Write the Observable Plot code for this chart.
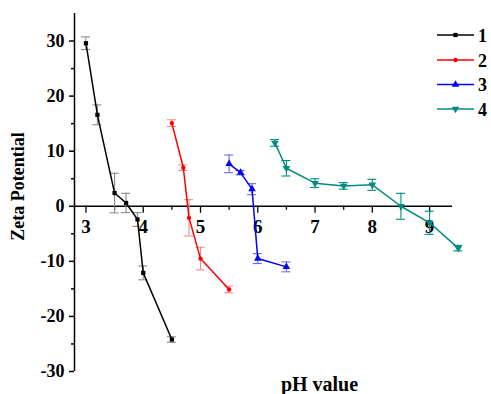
<!DOCTYPE html>
<html>
<head>
<meta charset="utf-8">
<script src="https://cdn.jsdelivr.net/npm/d3@7"></script>
<script src="https://cdn.jsdelivr.net/npm/@observablehq/plot@0.6"></script>
<style>
  html, body { margin: 0; padding: 0; background: #fff; }
  #wrap { position: relative; width: 491px; height: 394px; overflow: hidden; }
  #wrap svg text { font-weight: bold; }
  #legend { position: absolute; left: 0; top: 0; pointer-events: none; }
</style>
</head>
<body>
<div id="wrap"></div>
<script>
// ---- data ----
const seriesNames = ["1", "2", "3", "4"];
const seriesColors = ["#000000", "#ff0000", "#0000ff", "#008b80"];
const errorColors = ["#8a8a8a", "#f08a8a", "#6a6ae8", "#008b80"];

const ph1 = [3.0, 3.2, 3.5, 3.7, 3.9, 4.0, 4.5];
const zeta1 = [29.6, 16.6, 2.4, 0.6, -2.4, -12.1, -24.2];
const err1 = [1.15, 1.8, 3.6, 1.75, 1.25, 1.25, 0.5];

const ph2 = [4.5, 4.7, 4.8, 5.0, 5.5];
const zeta2 = [15.1, 7.0, -2.1, -9.5, -15.1];
const err2 = [0.6, 0.5, 3.3, 2.05, 0.6];

const ph3 = [5.5, 5.7, 5.9, 6.0, 6.5];
const zeta3 = [7.7, 6.1, 3.1, -9.5, -11.0];
const err3 = [1.6, 0.4, 1.0, 0.9, 0.9];

const ph4 = [6.3, 6.5, 7.0, 7.5, 8.0, 8.5, 9.0, 9.5];
const zeta4 = [11.5, 6.9, 4.2, 3.7, 3.9, 0.0, -3.0, -7.6];
const err4 = [0.6, 1.4, 0.8, 0.6, 1.0, 2.35, 2.1, 0.5];

const xTicks = [3, 4, 5, 6, 7, 8, 9];
const xMinorTicks = [3.5, 4.5, 5.5, 6.5, 7.5, 8.5];
const yTicks = [-30, -20, -10, 0, 10, 20, 30];
const yMinorTicks = [-25, -15, -5, 5, 15, 25];
const xDomain = [2.8, 9.4];
const yDomain = [-30, 35];

// ---- tidy table ----
const phs = [ph1, ph2, ph3, ph4];
const zetas = [zeta1, zeta2, zeta3, zeta4];
const errs = [err1, err2, err3, err4];
const rows = [];
seriesNames.forEach((s, k) => {
  phs[k].forEach((p, i) => rows.push({series: s, k, ph: p, zeta: zetas[k][i], err: errs[k][i]}));
});

const triangleDown = {
  draw(context, size) {
    const sqrt3 = Math.sqrt(3);
    const y = Math.sqrt(size / (sqrt3 * 3));
    context.moveTo(0, y * 2);
    context.lineTo(-sqrt3 * y, -y);
    context.lineTo(sqrt3 * y, -y);
    context.closePath();
  }
};
const symbols = ["square", "circle", "triangle", triangleDown];
const symbolR = [2.4, 2.2, 2.8, 2.8];

const marks = [];
// axes lines
marks.push(Plot.ruleY([0], {stroke: "#000", strokeWidth: 1.3}));
marks.push(Plot.ruleX([xDomain[0]], {stroke: "#000", strokeWidth: 1.5}));
// x ticks (hanging below y=0 line)
marks.push(Plot.ruleX(xTicks, {x: d => d, y1: 0, y2: 0, insetBottom: -7, stroke: "#000", strokeWidth: 1.3}));
marks.push(Plot.ruleX(xMinorTicks, {x: d => d, y1: 0, y2: 0, insetBottom: -4, stroke: "#000", strokeWidth: 1.3}));
marks.push(Plot.text(xTicks, {x: d => d, y: 0, dy: 21, text: d => String(d), fontSize: 19, fontWeight: "bold", fill: "#000"}));
// y axis ticks
marks.push(Plot.ruleY(yTicks, {y: d => d, x1: xDomain[0], x2: xDomain[0], insetLeft: -5, stroke: "#000", strokeWidth: 1.5}));
marks.push(Plot.ruleY(yMinorTicks, {y: d => d, x1: xDomain[0], x2: xDomain[0], insetLeft: -3, stroke: "#000", strokeWidth: 1.5}));
marks.push(Plot.text(yTicks, {y: d => d, frameAnchor: "left", textAnchor: "end", dx: -10, text: d => String(d), fontSize: 18, fontWeight: "bold", fill: "#000"}));
// axis titles
marks.push(Plot.text(["Zeta Potential"], {frameAnchor: "left", textAnchor: "middle", dx: -56, dy: -6, rotate: -90, fontSize: 18, fontWeight: "bold", fill: "#000"}));
marks.push(Plot.text(["pH value"], {frameAnchor: "bottom", textAnchor: "middle", dx: 56, dy: 19, lineAnchor: "bottom", fontSize: 20, fontWeight: "bold", fill: "#000"}));

seriesNames.forEach((s, k) => {
  const data = rows.filter(r => r.k === k);
  // error bars
  marks.push(Plot.ruleX(data, {x: "ph", y1: d => d.zeta - d.err, y2: d => d.zeta + d.err, stroke: errorColors[k], strokeWidth: 1.1}));
  marks.push(Plot.ruleY(data, {y: d => d.zeta + d.err, x1: "ph", x2: "ph", insetLeft: -4.5, insetRight: -4.5, stroke: errorColors[k], strokeWidth: 1.1}));
  marks.push(Plot.ruleY(data, {y: d => d.zeta - d.err, x1: "ph", x2: "ph", insetLeft: -4.5, insetRight: -4.5, stroke: errorColors[k], strokeWidth: 1.1}));
  // line
  marks.push(Plot.line(data, {x: "ph", y: "zeta", stroke: seriesColors[k], strokeWidth: 1.5}));
  // markers
  marks.push(Plot.dot(data, {x: "ph", y: "zeta", symbol: () => symbols[k], r: symbolR[k], fill: seriesColors[k], stroke: "none"}));
});

const chart = Plot.plot({
  width: 491,
  height: 394,
  marginLeft: 74,
  marginRight: 39,
  marginTop: 13,
  marginBottom: 23,
  x: {domain: xDomain, axis: null},
  y: {domain: yDomain, axis: null},
  symbol: {type: "identity"},
  style: {fontFamily: "'Liberation Serif', 'Times New Roman', serif", color: "#000", background: "#fff", overflow: "visible"},
  marks
});
const wrap = document.getElementById("wrap");
wrap.appendChild(chart);

// ---- legend ----
const legendY = [35, 60, 84.5, 109];
const lg = d3.select(wrap).append("svg").attr("id", "legend").attr("width", 491).attr("height", 394);
seriesNames.forEach((s, k) => {
  const g = lg.append("g").attr("transform", `translate(0,${legendY[k]})`);
  g.append("line").attr("x1", 437).attr("x2", 474).attr("y1", 0).attr("y2", 0).attr("stroke", seriesColors[k]).attr("stroke-width", 1.5);
  const sym = k === 3 ? triangleDown : ({square: d3.symbolSquare, circle: d3.symbolCircle, triangle: d3.symbolTriangle})[symbols[k]];
  const area = Math.PI * symbolR[k] * symbolR[k];
  g.append("path").attr("transform", "translate(455.5,0)").attr("d", d3.symbol(sym, area)()).attr("fill", seriesColors[k]);
  g.append("text").attr("x", 478).attr("y", 6.5).text(s)
    .attr("font-family", "'Liberation Serif', 'Times New Roman', serif").attr("font-weight", "bold").attr("font-size", 18).attr("fill", "#000");
});
</script>
</body>
</html>
